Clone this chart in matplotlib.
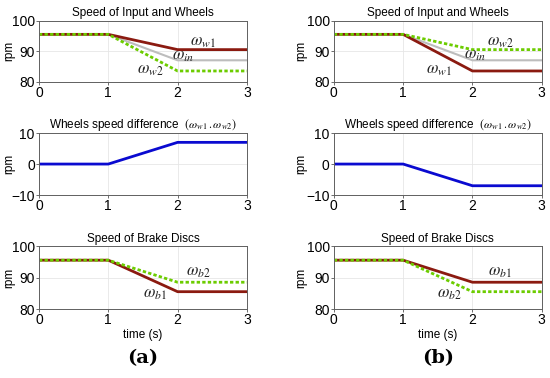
import matplotlib.pyplot as plt

plt.rcParams['font.family'] = ['Liberation Sans', 'DejaVu Sans']
plt.rcParams['mathtext.fontset'] = 'stix'

# time breakpoints
t = [0, 1, 2, 3]

# (a) wheel speeds
a_w1 = [95.5, 95.5, 90.5, 90.5]
a_in = [95.5, 95.5, 87.0, 87.0]
a_w2 = [95.5, 95.5, 83.5, 83.5]
a_diff = [0, 0, 7, 7]
a_b1 = [95.5, 95.5, 85.5, 85.5]
a_b2 = [95.5, 95.5, 88.5, 88.5]

# (b) wheel speeds
b_w1 = [95.5, 95.5, 83.5, 83.5]
b_in = [95.5, 95.5, 87.0, 87.0]
b_w2 = [95.5, 95.5, 90.5, 90.5]
b_diff = [0, 0, -7, -7]
b_b1 = [95.5, 95.5, 88.5, 88.5]
b_b2 = [95.5, 95.5, 85.5, 85.5]

RED = '#8b1a10'
GREEN = '#6ccc00'
GRAY = '#bdbdbd'
BLUE = '#0a0ad0'

fig = plt.figure(figsize=(5.5, 3.78), dpi=100)

lefts = [0.0709, 0.607]
ylab_x = [-0.115, -0.13]
rows = [(0.784, 0.1614), (0.484, 0.164), (0.1825, 0.1667)]


def style(ax, ylim, yticks, lx):
    ax.set_xlim(0, 3)
    ax.set_ylim(*ylim)
    ax.set_xticks([0, 1, 2, 3])
    ax.set_yticks(yticks)
    ax.grid(True, color='#e6e6e6', linewidth=0.6)
    ax.set_axisbelow(True)
    ax.tick_params(labelsize=10, length=2, width=0.6, color='#555555', pad=1)
    for s in ax.spines.values():
        s.set_color('#606060')
        s.set_linewidth(0.7)
    ax.set_ylabel('rpm', fontsize=8.5)
    ax.yaxis.set_label_coords(lx, 0.5)


def lab(ax, x, y, s):
    ax.text(x, y, s, fontsize=12, color='#222222', ha='center', va='center')


sets = [
    (a_w1, a_in, a_w2, a_diff, a_b1, a_b2, '(a)'),
    (b_w1, b_in, b_w2, b_diff, b_b1, b_b2, '(b)'),
]

for left, lx, (w1, win, w2, diff, b1, b2, tag) in zip(lefts, ylab_x, sets):
    ax1 = fig.add_axes([left, rows[0][0], 0.378, rows[0][1]])
    ax1.plot(t, win, color=GRAY, lw=1.5)
    ax1.plot(t, w1, color=RED, lw=2)
    ax1.plot(t, w2, color=GREEN, lw=2, ls=(0, (1.2, 0.8)))
    style(ax1, (80, 100), [80, 90, 100], lx)
    ax1.set_title('Speed of Input and Wheels', fontsize=8.5, pad=3)

    ax2 = fig.add_axes([left, rows[1][0], 0.378, rows[1][1]])
    ax2.plot(t, diff, color=BLUE, lw=2)
    style(ax2, (-10, 10), [-10, 0, 10], lx)
    ax2.set_title(r'Wheels speed difference  $(\omega_{w1}\,.\omega_{w2})$', fontsize=8.5, pad=3)

    ax3 = fig.add_axes([left, rows[2][0], 0.378, rows[2][1]])
    ax3.plot(t, b1, color=RED, lw=2)
    ax3.plot(t, b2, color=GREEN, lw=2, ls=(0, (1.2, 0.8)))
    style(ax3, (80, 100), [80, 90, 100], lx)
    ax3.set_title('Speed of Brake Discs', fontsize=8.5, pad=3)
    ax3.set_xlabel('time (s)', fontsize=8.5, labelpad=1)

    fig.text(left + 0.189, 0.053, tag, fontsize=14, family='DejaVu Serif',
             fontweight='bold', ha='center', va='center')

    if tag == '(a)':
        lab(ax1, 2.37, 92.8, r'$\omega_{w1}$')
        lab(ax1, 2.08, 88.4, r'$\omega_{in}$')
        lab(ax1, 1.6, 83.6, r'$\omega_{w2}$')
        lab(ax3, 2.3, 91.6, r'$\omega_{b2}$')
        lab(ax3, 1.68, 84.5, r'$\omega_{b1}$')
    else:
        lab(ax1, 2.4, 92.8, r'$\omega_{w2}$')
        lab(ax1, 2.04, 88.7, r'$\omega_{in}$')
        lab(ax1, 1.52, 83.8, r'$\omega_{w1}$')
        lab(ax3, 2.4, 91.6, r'$\omega_{b1}$')
        lab(ax3, 1.66, 84.5, r'$\omega_{b2}$')

fig.savefig('out.png', dpi=100)
